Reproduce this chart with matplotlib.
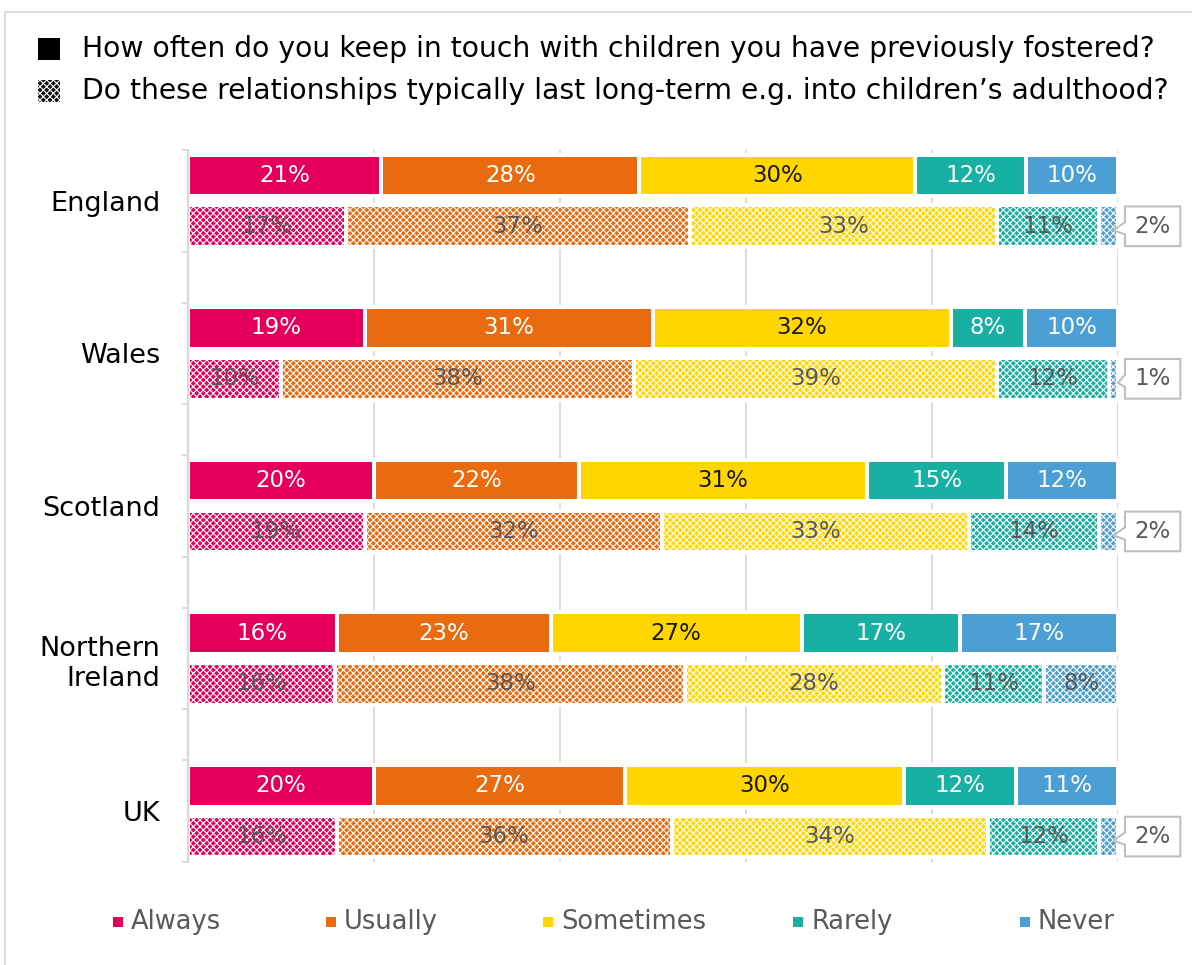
import matplotlib
matplotlib.use("Agg")
import matplotlib.pyplot as plt
from matplotlib.patches import Rectangle, Polygon

plt.rcParams["font.family"] = ["DejaVu Sans"]
plt.rcParams["hatch.linewidth"] = 0.8

# ---- data -------------------------------------------------------------
regions = ["England", "Wales", "Scotland", "Northern\nIreland", "UK"]
responses = ["Always", "Usually", "Sometimes", "Rarely", "Never"]
colors = ["#E4005A", "#EA6A0F", "#FFD600", "#17B0A2", "#4B9FD5"]

# How often do you keep in touch with children you have previously fostered?
keep_in_touch = [
    [21, 28, 30, 12, 10],   # England
    [19, 31, 32, 8, 10],    # Wales
    [20, 22, 31, 15, 12],   # Scotland
    [16, 23, 27, 17, 17],   # Northern Ireland
    [20, 27, 30, 12, 11],   # UK
]
# Do these relationships typically last long-term?
long_term = [
    [17, 37, 33, 11, 2],
    [10, 38, 39, 12, 1],
    [19, 32, 33, 14, 2],
    [16, 38, 28, 11, 8],
    [16, 36, 34, 12, 2],
]

question_1 = "How often do you keep in touch with children you have previously fostered?"
question_2 = "Do these relationships typically last long-term e.g. into children\u2019s adulthood?"

W, H = 1192, 965
fig = plt.figure(figsize=(W / 100, H / 100), dpi=100)

# overlay in pixel coordinates for frame, header and legend
ov = fig.add_axes([0, 0, 1, 1])
ov.set_xlim(0, W)
ov.set_ylim(H, 0)
ov.axis("off")
ov.plot([5, 5, W + 5], [H + 5, 12, 12], color="#D9D9D9", lw=1.3, zorder=0)

# header
ov.add_patch(Rectangle((38, 38), 22, 22, facecolor="black", edgecolor="none"))
ov.text(82, 49, question_1, fontsize=20.3, va="center", ha="left", color="black")
ov.add_patch(Rectangle((38, 80), 22, 22, facecolor="#111111", edgecolor="white",
                       hatch="xxxxx", lw=0))
ov.text(82, 91, question_2, fontsize=20.3, va="center", ha="left", color="black")

# bottom legend
legend_x = [113, 326, 543, 793, 1020]
for name, col, lx in zip(responses, colors, legend_x):
    ov.add_patch(Rectangle((lx, 917), 10, 10, facecolor=col, edgecolor="none"))
    ov.text(lx + 18, 922, name, fontsize=18.5, va="center", ha="left", color="#595959")

# ---- main chart ------------------------------------------------------
ax = fig.add_axes([188 / W, 1 - 862 / H, 930 / W, 712 / H])
n_slots = 3 * len(regions) - 1
ax.set_xlim(0, 100)
ax.set_ylim(n_slots - 0.5, -0.5)

for gx in [20, 40, 60, 80, 100]:
    ax.axvline(gx, color="#D9D9D9", lw=1.3, zorder=0)

bar_h = 0.82
for g, region in enumerate(regions):
    for row, (vals, patterned) in enumerate([(keep_in_touch[g], False),
                                             (long_term[g], True)]):
        y = 3 * g + row
        total = sum(vals)
        left = 0.0
        for i, v in enumerate(vals):
            w = v / total * 100
            ax.barh(y, w, left=left, height=bar_h, color=colors[i],
                    edgecolor="white", lw=2.9, hatch="xxxxx" if patterned else None,
                    zorder=2)
            label = f"{v}%"
            if patterned:
                tc = "#595959"
            else:
                tc = "#1a1a1a" if responses[i] == "Sometimes" else "white"
            if v >= 5:
                ax.text(left + w / 2, y, label, ha="center", va="center",
                        fontsize=16.5, color=tc, zorder=3)
            else:
                # callout box to the right of a thin end segment
                tip = left + w / 2 + 0.5
                x0, x1 = 100.75, 106.7
                hb = 0.39
                poly = Polygon([(x0, y - hb), (x1, y - hb), (x1, y + hb), (x0, y + hb),
                                (x0, y + 0.16), (tip, y + 0.08), (x0, y - 0.08)],
                               closed=True, facecolor="white", edgecolor="#BFBFBF",
                               lw=1.5, clip_on=False, zorder=4)
                ax.add_patch(poly)
                ax.text((x0 + x1) / 2, y, label, ha="center", va="center",
                        fontsize=16.5, color="#595959", zorder=5, clip_on=False)
            left += w

# axes styling
for s in ["top", "right", "bottom"]:
    ax.spines[s].set_visible(False)
ax.spines["left"].set_color("#D9D9D9")
ax.spines["left"].set_linewidth(1.6)
ax.set_xticks([])
ax.set_yticks([3 * g + 0.5 for g in range(len(regions))])
ax.set_yticklabels(regions, fontsize=19.5, color="black")
ax.tick_params(axis="y", which="major", length=0, pad=20)
ax.set_yticks([k - 0.5 for k in range(n_slots + 1)], minor=True)
ax.tick_params(axis="y", which="minor", length=4, width=1.4, color="#D9D9D9")

fig.savefig("out.png", dpi=100)
